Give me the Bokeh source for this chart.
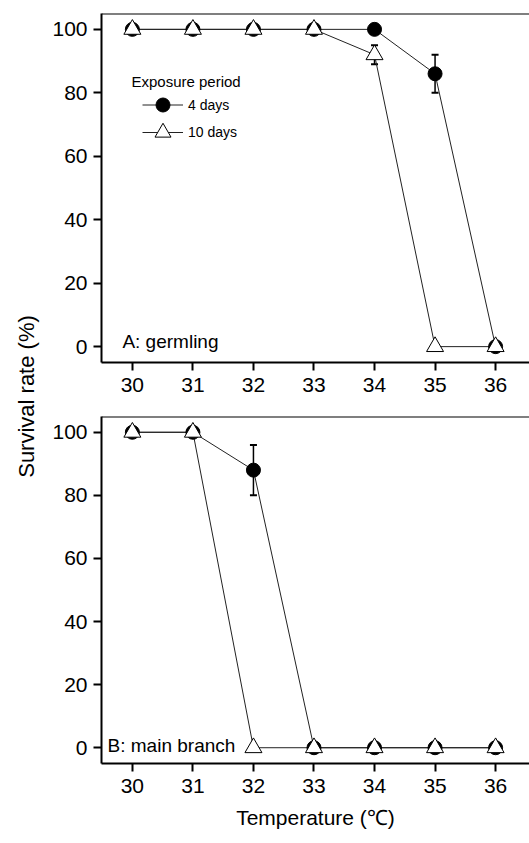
import numpy as np
from bokeh.plotting import figure
from bokeh.layouts import row, column
from bokeh.models import (Range1d, ColumnDataSource, Whisker, Span, Label,
                          Legend, LegendItem, TeeHead)
from bokeh.embed import file_html
from bokeh.resources import INLINE

# ---------------- data ----------------
temps = [30, 31, 32, 33, 34, 35, 36]
y_ticks = [0, 20, 40, 60, 80, 100]

germ_4d = [100, 100, 100, 100, 100, 86, 0]
germ_4d_err = [0, 0, 0, 0, 0, 6, 0]
germ_10d = [100, 100, 100, 100, 92, 0, 0]
germ_10d_err = [0, 0, 0, 0, 3, 0, 0]

main_4d = [100, 100, 88, 0, 0, 0, 0]
main_4d_err = [0, 0, 8, 0, 0, 0, 0]
main_10d = [100, 100, 0, 0, 0, 0, 0]
main_10d_err = [0, 0, 0, 0, 0, 0, 0]

series_names = ["4 days", "10 days"]
legend_title = "Exposure period"
panel_labels = ["A: germling", "B: main branch"]
y_label = "Survival rate (%)"
x_label = "Temperature (\u2103)"

FONT = "Liberation Sans"
X_RANGE = (29.49, 36.56)
Y_RANGE = (-5, 105)


def whisker_source(xs, ys, errs):
    xx, lo, hi = [], [], []
    for x, y, e in zip(xs, ys, errs):
        if e > 0:
            xx.append(x)
            lo.append(y - e)
            hi.append(y + e)
    return ColumnDataSource(dict(x=xx, lower=lo, upper=hi))


def make_panel(v4, e4, v10, e10, height, top, bottom, label, lab_x, lab_y,
               show_legend=False, xlabel=None):
    p = figure(width=489, height=height, toolbar_location=None,
               output_backend="svg",
               x_range=Range1d(*X_RANGE), y_range=Range1d(*Y_RANGE),
               min_border_left=61, min_border_right=0,
               min_border_top=top, min_border_bottom=bottom)
    p.outline_line_color = None
    p.xgrid.visible = False
    p.ygrid.visible = False
    p.background_fill_color = "white"
    p.border_fill_color = "white"

    for ax in (p.xaxis[0], p.yaxis[0]):
        ax.axis_line_width = 2
        ax.axis_line_color = "black"
        ax.major_tick_line_width = 2
        ax.major_tick_line_color = "black"
        ax.major_tick_out = 8
        ax.major_tick_in = 0
        ax.minor_tick_out = 0
        ax.minor_tick_in = 0
        ax.major_label_text_font = FONT
        ax.major_label_text_font_size = "21px"
        ax.major_label_text_color = "black"
    p.xaxis.ticker = temps
    p.yaxis.ticker = y_ticks
    p.xaxis.major_label_standoff = 7
    p.yaxis.major_label_standoff = 6
    if xlabel:
        p.xaxis.axis_label = xlabel
        p.xaxis.axis_label_text_font = FONT
        p.xaxis.axis_label_text_font_style = "normal"
        p.xaxis.axis_label_text_font_size = "21px"
        p.xaxis.axis_label_text_color = "black"
        p.xaxis.axis_label_standoff = 10

    # top border line
    p.add_layout(Span(location=Y_RANGE[1], dimension="width",
                      line_color="black", line_width=2))

    src4 = ColumnDataSource(dict(x=temps, y=v4))
    src10 = ColumnDataSource(dict(x=temps, y=v10))

    l4 = p.line("x", "y", source=src4, line_color="#222222", line_width=1)
    l10 = p.line("x", "y", source=src10, line_color="#222222", line_width=1)

    for xs, ys, es in ((temps, v4, e4), (temps, v10, e10)):
        ws = whisker_source(xs, ys, es)
        if len(ws.data["x"]):
            p.add_layout(Whisker(source=ws, base="x", lower="lower", upper="upper",
                                 line_color="black", line_width=1.5,
                                 upper_head=TeeHead(size=7, line_width=2, line_color="black"),
                                 lower_head=TeeHead(size=7, line_width=2, line_color="black")))

    c4 = p.scatter("x", "y", source=src4, marker="circle", size=14,
                   fill_color="black", line_color="black", line_width=1)
    t10 = p.scatter("x", "y", source=src10, marker="triangle", size=17,
                    fill_color="white", line_color="black", line_width=1)

    p.add_layout(Label(x=lab_x, y=lab_y, text=label, text_font=FONT,
                       text_font_size="19px", text_color="black",
                       text_baseline="alphabetic", text_align="left"))

    if show_legend:
        p.add_layout(Label(x=29.985, y=83.7, text=legend_title, text_font=FONT,
                           text_font_size="15px", text_color="black",
                           text_baseline="alphabetic", text_align="left"))
        common = dict(padding=0, margin=0, border_line_color=None,
                      background_fill_alpha=0, glyph_width=41,
                      spacing=0, label_standoff=5,
                      label_text_font=FONT, label_text_font_size="14px",
                      label_text_color="black")
        leg1 = Legend(items=[LegendItem(label=series_names[0], renderers=[l4, c4])],
                      location=(41, 240), glyph_height=35, label_height=35, **common)
        leg2 = Legend(items=[LegendItem(label=series_names[1], renderers=[l10, t10])],
                      location=(41, 210), glyph_height=40, label_height=40, **common)
        p.add_layout(leg1)
        p.add_layout(leg2)
    return p


p1 = make_panel(germ_4d, germ_4d_err, germ_10d, germ_10d_err,
                height=405, top=13, bottom=43, label=panel_labels[0],
                lab_x=29.835, lab_y=1.6, show_legend=True)
p2 = make_panel(main_4d, main_4d_err, main_10d, main_10d_err,
                height=438, top=11, bottom=80, label=panel_labels[1],
                lab_x=29.59, lab_y=0.85, xlabel=x_label)

lab = figure(width=40, height=843, toolbar_location=None, output_backend="svg",
             x_range=Range1d(0, 1), y_range=Range1d(0, 1),
             x_axis_type=None, y_axis_type=None, min_border=0)
lab.outline_line_color = None
lab.xgrid.visible = False
lab.ygrid.visible = False
lab.add_layout(Label(x=26, y=843 - 396, x_units="screen", y_units="screen",
                     angle=np.pi / 2, text=y_label, text_font=FONT,
                     text_font_size="22px", text_color="black",
                     text_align="center", text_baseline="middle"))

layout = row(lab, column(p1, p2, spacing=0), spacing=0)

open("out.html", "w").write(file_html(layout, INLINE))
